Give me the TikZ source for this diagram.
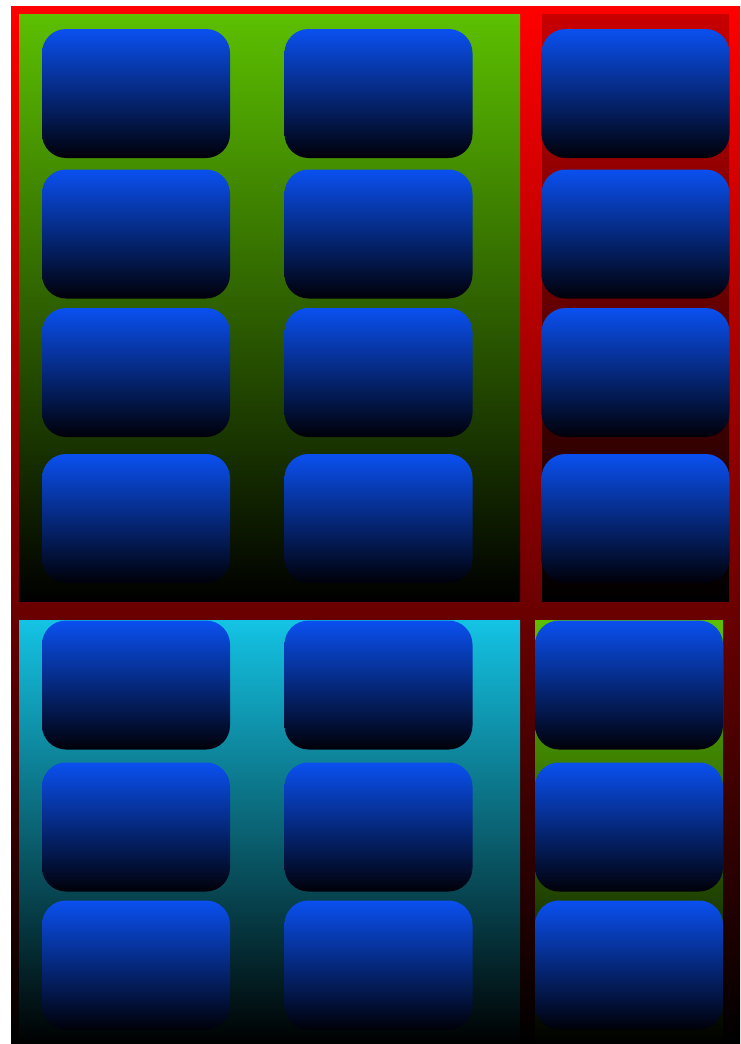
\documentclass[tikz,border=0pt]{standalone}

\definecolor{tileblue}{RGB}{10,80,240}
\definecolor{tiledark}{RGB}{0,0,8}
\definecolor{leafgreen}{RGB}{92,192,0}
\definecolor{skycyan}{RGB}{20,195,228}
\definecolor{deepred}{RGB}{200,0,0}

\begin{document}
\begin{tikzpicture}[x=1pt, y=-1pt,
  tile/.style={rounded corners=24pt, minimum width=188pt, minimum height=129pt,
    inner sep=0pt, top color=tileblue, bottom color=tiledark},
]
  \useasboundingbox (0,0) rectangle (740,1044);
  % outer frame
  \fill[top color=red, middle color={rgb,255:red,170;green,0;blue,0}, bottom color=black]
    (11,6) rectangle (740,1044);
  % panels
  \fill[top color=leafgreen, middle color={rgb,255:red,48;green,100;blue,0}, bottom color=black]
    (19,14) rectangle (520,601);
  \fill[top color=deepred, middle color={rgb,255:red,120;green,0;blue,0}, bottom color=black]
    (542,14) rectangle (729,601);
  \fill[top color=skycyan, bottom color=black] (19,620) rectangle (520,1044);
  \fill[top color=leafgreen, middle color={rgb,255:red,40;green,80;blue,0}, bottom color=black]
    (535,620) rectangle (723,1044);
  % upper tiles
  \foreach \y [count=\r] in {93.5,234,372.5,518.5} {
    \foreach \x [count=\c] in {136,378.5}
      \node[tile] (up-\r-\c) at (\x,\y) {};
    \node[tile] (upside-\r) at (635.5,\y) {};
  }
  % lower tiles
  \foreach \y [count=\r] in {685,827,965} {
    \foreach \x [count=\c] in {136,378.5}
      \node[tile] (low-\r-\c) at (\x,\y) {};
    \node[tile] (lowside-\r) at (629,\y) {};
  }
\end{tikzpicture}
\end{document}
